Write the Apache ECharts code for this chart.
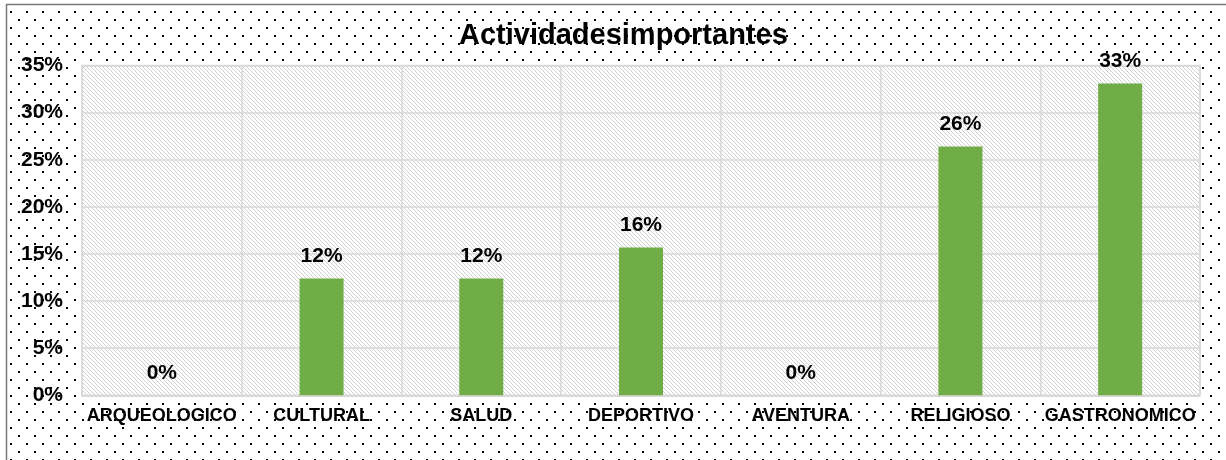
<!DOCTYPE html>
<html><head><meta charset="utf-8">
<script src="https://cdn.jsdelivr.net/npm/echarts@6/dist/echarts.min.js"></script>
<style>html,body{margin:0;padding:0;background:#fff}#c{width:1226px;height:460px}</style>
</head><body><div id="c"></div>
<script>
const titleText = 'Actividadesimportantes';
const categories = ['ARQUEOLOGICO','CULTURAL','SALUD','DEPORTIVO','AVENTURA','RELIGIOSO','GASTRONOMICO'];
const values = [0, 12.4, 12.4, 15.7, 0, 26.4, 33.1];
const yTicks = {min: 0, max: 35, step: 5};

function dotPattern(){
  const c = document.createElement('canvas'); c.width = 16; c.height = 16;
  const g = c.getContext('2d'); g.fillStyle = '#fff'; g.fillRect(0,0,16,16);
  g.fillStyle = '#000'; g.fillRect(2,3,2,2); g.fillRect(10,11,2,2);
  return c;
}
function hatchPattern(){
  const c = document.createElement('canvas'); c.width = 4; c.height = 4;
  const g = c.getContext('2d'); g.fillStyle = '#fff'; g.fillRect(0,0,4,4);
  g.fillStyle = '#cfcfcf';
  for (let i = 0; i < 4; i++) g.fillRect(i, i, 1, 1);
  return c;
}
const font = "'Liberation Sans', Arial, sans-serif";
const chart = echarts.init(document.getElementById('c'), null, {renderer: 'canvas'});
chart.setOption({
  animation: false,
  backgroundColor: {image: dotPattern(), repeat: 'repeat'},
  title: {text: titleText, left: 454, top: 16,
    textStyle: {fontFamily: font, fontWeight: 'bold', fontSize: 29, color: '#000'}},
  graphic: [
    {type: 'rect', shape: {x: 0, y: 0, width: 6, height: 460}, style: {fill: '#fff'}, silent: true},
    {type: 'rect', shape: {x: 0, y: 0, width: 1226, height: 4}, style: {fill: '#fff'}, silent: true},
    {type: 'polyline', shape: {points: [[6.5, 460], [6.5, 4.5], [1226, 4.5]]},
      style: {stroke: '#7a7a7a', lineWidth: 1.5, fill: null}, silent: true}
  ],
  grid: {left: 82, right: 26, top: 65.6, bottom: 64.7, show: true,
    backgroundColor: {image: hatchPattern(), repeat: 'repeat'},
    borderColor: '#d9d9d9', borderWidth: 1.5},
  xAxis: {type: 'category', data: categories,
    axisLine: {show: true, lineStyle: {color: '#d9d9d9', width: 1.5}},
    axisTick: {show: false},
    splitLine: {show: true, lineStyle: {color: '#d9d9d9', width: 1.5}},
    axisLabel: {interval: 0, margin: 12, color: '#000', fontFamily: font, fontWeight: 'bold', fontSize: 18}},
  yAxis: {type: 'value', min: yTicks.min, max: yTicks.max, interval: yTicks.step,
    axisLine: {show: false}, axisTick: {show: false},
    splitLine: {show: true, lineStyle: {color: '#d9d9d9', width: 1.5}},
    axisLabel: {margin: 19, formatter: '{value}%', color: '#000', fontFamily: font, fontWeight: 'bold', fontSize: 21}},
  series: [{type: 'bar', data: values, barWidth: 44,
    itemStyle: {color: '#70ad47'},
    label: {show: true, position: 'top', distance: 12,
      formatter: p => Math.round(p.value) + '%',
      color: '#000', fontFamily: font, fontWeight: 'bold', fontSize: 21}}]
});
</script></body></html>
